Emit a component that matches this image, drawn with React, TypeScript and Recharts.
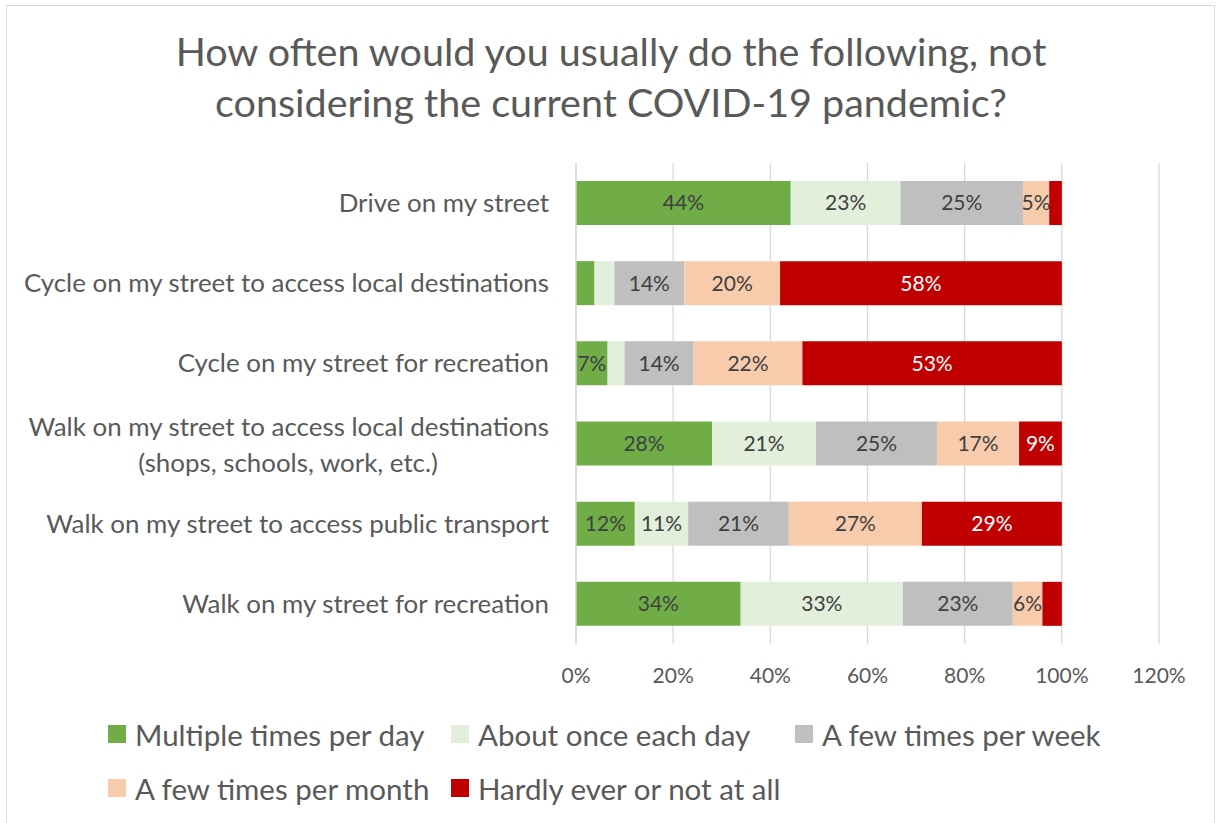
import React from 'react';
import { BarChart, Bar, XAxis, YAxis, CartesianGrid, Legend, LabelList } from 'recharts';

const categories = [
  'Drive on my street',
  'Cycle on my street to access local destinations',
  'Cycle on my street for recreation',
  'Walk on my street to access local destinations\n(shops, schools, work, etc.)',
  'Walk on my street to access public transport',
  'Walk on my street for recreation',
];
const multiplePerDay = [44.2, 3.8, 6.5, 28.0, 12.1, 33.9];
const onceEachDay = [22.6, 4.1, 3.5, 21.4, 11.0, 33.4];
const fewPerWeek = [25.2, 14.4, 14.2, 24.9, 20.7, 22.6];
const fewPerMonth = [5.4, 19.7, 22.4, 16.9, 27.4, 6.1];
const hardlyEver = [2.6, 58.0, 53.4, 8.8, 28.8, 4.0];
const xTicks = [0, 20, 40, 60, 80, 100, 120];

const seriesNames = [
  'Multiple times per day',
  'About once each day',
  'A few times per week',
  'A few times per month',
  'Hardly ever or not at all',
];
const seriesKeys = ['m', 'o', 'w', 'f', 'h'];
const seriesColors = ['#70AD47', '#E2EFDA', '#BFBFBF', '#F8CBAD', '#C00000'];
const labelColors = ['#404040', '#404040', '#404040', '#404040', '#FFFFFF'];

const data = categories.map((name, i) => ({
  name,
  m: multiplePerDay[i],
  o: onceEachDay[i],
  w: fewPerWeek[i],
  f: fewPerMonth[i],
  h: hardlyEver[i],
}));

const FONT = 'Lato, sans-serif';
const TEXT = '#595959';
const CAT_SIZE = 25.9;

const CategoryTick = (props: any) => {
  const { x, y, payload } = props;
  const lines = String(payload.value).split('\n');
  if (lines.length === 1) {
    return (
      <text x={x} y={y} dy="0.35em" textAnchor="end" fill={TEXT} fontSize={CAT_SIZE} fontFamily={FONT}>
        {lines[0]}
      </text>
    );
  }
  return (
    <g>
      <text x={x} y={y - 17} dy="0.35em" textAnchor="end" fill={TEXT} fontSize={CAT_SIZE} fontFamily={FONT}>
        {lines[0]}
      </text>
      <text x={x - 111} y={y + 19} dy="0.35em" textAnchor="end" fill={TEXT} fontSize={CAT_SIZE} fontFamily={FONT}>
        {lines[1]}
      </text>
    </g>
  );
};

const makeLabel = (color: string) => (props: any) => {
  const { x, y, width, height, value } = props;
  if (value == null || value < 5) return null;
  return (
    <text
      x={x + width / 2}
      y={y + height / 2}
      dy="0.35em"
      textAnchor="middle"
      fill={color}
      fontSize={21}
      fontFamily={FONT}
    >
      {Math.round(value) + '%'}
    </text>
  );
};

const legendCols = [108, 451, 795];
const LegendContent = () => (
  <div style={{ position: 'relative', width: 1222, height: 100, fontFamily: FONT }}>
    {seriesNames.map((n, i) => {
      const row = i < 3 ? 0 : 1;
      const col = i < 3 ? i : i - 3;
      const cy = row === 0 ? 24 : 78;
      return (
        <div
          key={n}
          style={{
            position: 'absolute',
            left: legendCols[col],
            top: cy - 20,
            height: 40,
            display: 'flex',
            alignItems: 'center',
            whiteSpace: 'nowrap',
          }}
        >
          <span style={{ display: 'inline-block', width: 18, height: 18, background: seriesColors[i], marginRight: 9 }} />
          <span style={{ fontSize: 29.5, color: TEXT }}>{n}</span>
        </div>
      );
    })}
  </div>
);

export default function App() {
  return (
    <div style={{ position: 'absolute', left: 0, top: 0, width: 1222, height: 823, overflow: 'hidden', background: '#fff' }}>
      <div
        style={{
          position: 'absolute',
          left: 6,
          top: 5,
          width: 1209,
          height: 840,
          border: '1px solid #d9d9d9',
          boxSizing: 'border-box',
        }}
      />
      <div
        style={{
          position: 'absolute',
          left: 0,
          top: 25,
          width: 1222,
          textAlign: 'center',
          fontFamily: FONT,
          fontSize: 39.5,
          lineHeight: '51px',
          color: TEXT,
        }}
      >
        How often would you usually do the following, not
        <br />
        considering the current COVID-19 pandemic?
      </div>
      <div style={{ position: 'absolute', left: 0, top: 0 }}>
        <BarChart
          width={1222}
          height={823}
          data={data}
          layout="vertical"
          margin={{ top: 163, right: 63, left: 0, bottom: 129 }}
        >
          <CartesianGrid horizontal={false} stroke="#d9d9d9" strokeWidth={1.3} />
          <XAxis
            type="number"
            domain={[0, 120]}
            ticks={xTicks}
            tickFormatter={(v: number) => v + '%'}
            axisLine={false}
            tickLine={false}
            tickSize={0}
            tickMargin={24}
            height={50}
            tick={{ fill: TEXT, fontSize: 21, fontFamily: FONT }}
            interval={0}
          />
          <YAxis
            type="category"
            dataKey="name"
            width={576}
            tickLine={false}
            tickSize={0}
            tickMargin={27}
            axisLine={{ stroke: '#d9d9d9', strokeWidth: 1.3 }}
            tick={<CategoryTick />}
            interval={0}
          />
          <Legend
            verticalAlign="middle"
            align="center"
            layout="horizontal"
            wrapperStyle={{ top: 710, left: 0, width: 1222 }}
            content={<LegendContent />}
          />
          {seriesKeys.map((k, i) => (
            <Bar
              key={k}
              dataKey={k}
              name={seriesNames[i]}
              stackId="a"
              fill={seriesColors[i]}
              barSize={44}
              isAnimationActive={false}
            >
              <LabelList dataKey={k} content={makeLabel(labelColors[i])} />
            </Bar>
          ))}
        </BarChart>
      </div>
    </div>
  );
}
